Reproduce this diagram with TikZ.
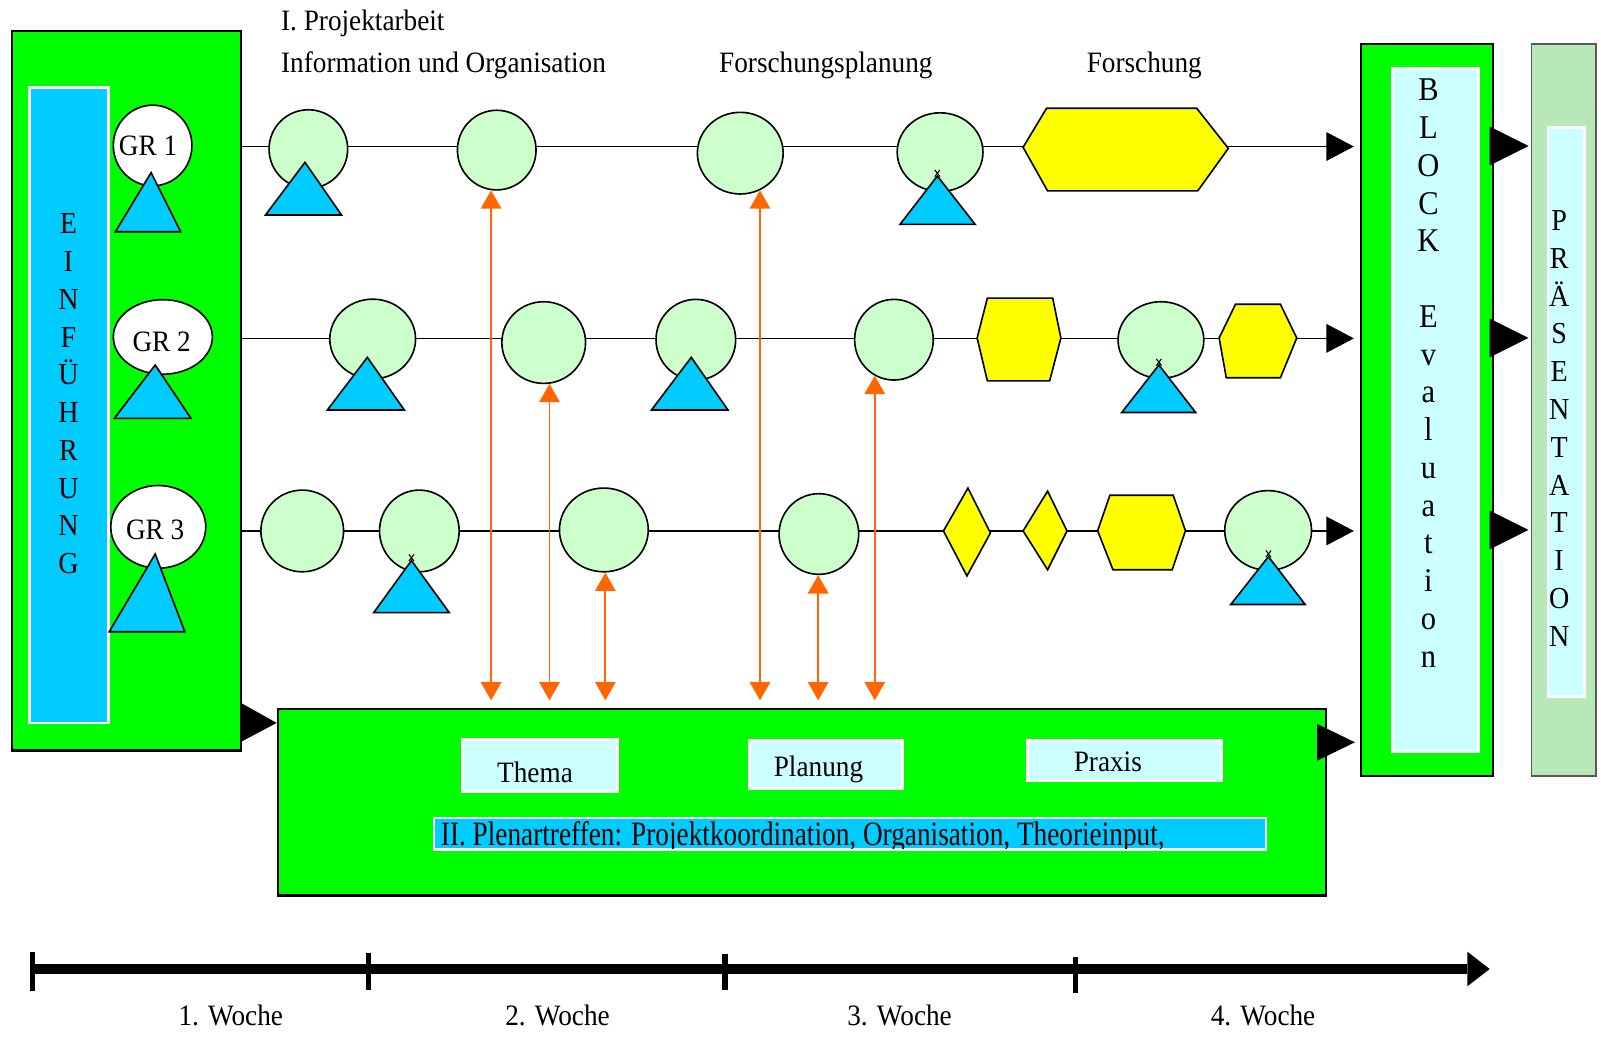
\documentclass[tikz,border=0pt]{standalone}
\usepackage{fontspec}
\setmainfont{Liberation Serif}[FakeStretch=0.92]
\newfontfamily\schmal{Liberation Serif}[FakeStretch=0.8]
\usetikzlibrary{shapes.geometric,arrows.meta,positioning}

\definecolor{hellgruen}{RGB}{204,255,204}
\definecolor{gruen}{RGB}{0,255,0}
\definecolor{tuerkis}{RGB}{0,204,255}
\definecolor{hellcyan}{RGB}{204,255,255}
\definecolor{gelb}{RGB}{255,255,0}
\definecolor{signalorange}{RGB}{255,102,0}
\definecolor{praesgruen}{RGB}{184,232,184}

\tikzset{
	groesse/.style 2 args={minimum width=#1*0.02cm, minimum height=#2*0.02cm},
	kasten/.style={draw, line width=1.2pt, fill=gruen, inner sep=0pt},
	feld/.style={draw=white, line width=1.5pt, fill=hellcyan, inner sep=0pt},
	balken/.style={draw=white, line width=1.5pt, fill=tuerkis, inner sep=0pt},
	kreis/.style={ellipse, draw, line width=0.9pt, fill=hellgruen, inner sep=0pt},
	gruppe/.style={ellipse, draw, line width=0.9pt, fill=white, inner sep=0pt},
	dreieck/.style={draw, line width=0.9pt, fill=tuerkis, line join=miter},
	wabe/.style={draw, line width=0.9pt, fill=gelb},
	zeile/.style={line width=0.9pt, shorten >=0.12cm, -{Triangle[length=0.54cm, width=0.56cm]}},
	pfeil/.style={color=signalorange, line width=1.1pt, shorten >=0.14cm, {Triangle[length=0.36cm, width=0.4cm]}-{Triangle[length=0.36cm, width=0.4cm]}},
	schrift/.style={font=\fontsize{16.5}{20}\selectfont, inner sep=0pt},
	senkrecht/.style={font=\fontsize{17}{21.05}\selectfont, align=center, inner sep=0pt, anchor=north},
}

\begin{document}
\begin{tikzpicture}[x=0.02cm, y=-0.02cm]
	\useasboundingbox (0,0) rectangle (1568,1017);
	% Einfuehrung
	\node[kasten, groesse={224}{705}] (einf) at (124,382.5) {};
	\node[balken, groesse={77}{622}] (einfbalken) at (67.5,397) {};
	\node[senkrecht] (einftext) at (67,209) {E\\I\\N\\F\\Ü\\H\\R\\U\\N\\G};
	% Block Evaluation und Praesentation
	\node[kasten, groesse={129}{717}] (block) at (1397.5,401.5) {};
	\node[feld, groesse={84}{669}] (blockfeld) at (1406,401.5) {};
	\node[senkrecht, font=\fontsize{18.5}{21.05}\selectfont] (blocktext) at (1399,77) {B\\L\\O\\C\\K\\~\\E\\v\\a\\l\\u\\a\\t\\i\\o\\n};
	\node[draw=gray!70!black, line width=0.8pt, fill=praesgruen, groesse={63}{717}] (praes) at (1531.5,401.5) {};
	\node[feld, groesse={36}{557}] (praesfeld) at (1534,403.5) {};
	\node[senkrecht] (praestext) at (1527,206) {P\\R\\Ä\\S\\E\\N\\T\\A\\T\\I\\O\\N};
	% Plenartreffen
	\node[kasten, groesse={1027}{183}] (plen) at (785.5,785.5) {};
	\node[feld, groesse={152}{51}] (thema) at (529,749.5) {};
	\node[feld, groesse={150}{47}] (planung) at (809,748.5) {};
	\node[feld, groesse={190}{40}] (praxis) at (1101,745) {};
	\node[balken, groesse={815}{31}] (plenarbalken) at (832.5,816.5) {};
	\node[schrift, anchor=base] (thematext) at (524,766) {Thema};
	\node[schrift, anchor=base] (planungtext) at (801.6,760.7) {Planung};
	\node[schrift, anchor=base] (praxistext) at (1085,755.8) {Praxis};
	\begin{scope}
		\clip (426,802) rectangle (1239,831);
		\node[anchor=base west, inner sep=0pt, font=\schmal\fontsize{19}{22}\selectfont] (plenartext) at (431.5,828.5) {II. Plenartreffen: Projektkoordination, Organisation, Theorieinput,};
	\end{scope}

	% Zeilen der Gruppen
	\draw[zeile] (einf.east |- 0,143.5) -- (block.west |- 0,143.5);
	\draw[zeile] (einf.east |- 0,331.4) -- (block.west |- 0,331.4);
	\draw[zeile] (einf.east |- 0,520) -- (block.west |- 0,520);

	\node[gruppe, groesse={77}{79}] (gr1) at (149.5,142.5) {};
	\node[gruppe, groesse={97}{73}] (gr2) at (159.5,330) {};
	\node[gruppe, groesse={93}{81}] (gr3) at (155,516) {};
	\node[schrift, anchor=base] (gr1text) at (145,152.5) {GR 1};
	\node[schrift, anchor=base] (gr2text) at (158.3,344) {GR 2};
	\node[schrift, anchor=base] (gr3text) at (152,528) {GR 3};

	\node[kreis, groesse={77}{77}] (c11) at (302,146) {};
	\node[kreis, groesse={77}{78}] (c12) at (486.5,147) {};
	\node[kreis, groesse={84}{80}] (c13) at (725,150) {};
	\node[kreis, groesse={84}{77}] (c14) at (920.7,149) {};
	\node[kreis, groesse={84}{78}] (c21) at (365,332) {};
	\node[kreis, groesse={82}{80}] (c22) at (532.5,335.5) {};
	\node[kreis, groesse={78}{79}] (c23) at (681.5,332.7) {};
	\node[kreis, groesse={77}{79}] (c24) at (875.5,332.7) {};
	\node[kreis, groesse={84}{75}] (c25) at (1137,333) {};
	\node[kreis, groesse={81}{80}] (c31) at (296,520) {};
	\node[kreis, groesse={78}{80}] (c32) at (410.7,520) {};
	\node[kreis, groesse={87}{82}] (c33) at (591.4,519) {};
	\node[kreis, groesse={78}{79}] (c34) at (802,523) {};
	\node[kreis, groesse={85}{78}] (c35) at (1242,519.5) {};

	\draw[wabe] (1002,144.3) -- (1025,106) -- (1172,106) -- (1203,145.3) -- (1173,187) -- (1026,187) -- cycle;
	\draw[wabe] (957,331) -- (967,292) -- (1031,292) -- (1039,331) -- (1028,373) -- (967,373) -- cycle;
	\draw[wabe] (1194,331) -- (1210,298) -- (1254,298) -- (1270,331) -- (1254,370) -- (1201,370) -- cycle;
	\draw[wabe] (1075,519.8) -- (1087,485) -- (1149,485) -- (1161,519.8) -- (1148,558) -- (1090,558) -- cycle;
	\draw[wabe] (924,520) -- (948,478) -- (970,522) -- (947,564) -- cycle;
	\draw[wabe] (1002,520) -- (1026,481) -- (1045,520) -- (1026,558) -- cycle;

	% Dreiecke
	\draw[dreieck] (148,169) -- (113,227) -- (177,227) -- cycle;
	\draw[dreieck] (152,357.5) -- (112,409.7) -- (187,409.7) -- cycle;
	\draw[dreieck] (152,542.6) -- (107,618.7) -- (181,618.7) -- cycle;
	\draw[dreieck] (298.7,159) -- (260,210.6) -- (334.5,210.6) -- cycle;
	\draw[dreieck] (918,172.4) -- (881.5,219.7) -- (955,219.7) -- cycle;
	\draw[dreieck] (359.8,350) -- (320.6,401.6) -- (396,401.6) -- cycle;
	\draw[dreieck] (677,350) -- (638,401.6) -- (713,401.6) -- cycle;
	\draw[dreieck] (1135,357.5) -- (1098.6,404) -- (1171,404) -- cycle;
	\draw[dreieck] (403,549) -- (366,600) -- (440,600) -- cycle;
	\draw[dreieck] (1242.3,545.2) -- (1205.4,592) -- (1278.2,592) -- cycle;
	\draw[line width=0.6pt] (915.5,166.5) -- (920.5,173) (920.5,166.5) -- (915.5,173);
	\draw[line width=0.6pt] (1132.5,351.5) -- (1137.5,358) (1137.5,351.5) -- (1132.5,358);
	\draw[line width=0.6pt] (400.5,543) -- (405.5,549.5) (405.5,543) -- (400.5,549.5);
	\draw[line width=0.6pt] (1239.8,539.2) -- (1244.8,545.7) (1244.8,539.2) -- (1239.8,545.7);

	% Verbindungen zum Plenum
	\draw[pfeil] (c12.-98) -- (c12.-98 |- plen.north);
	\draw[pfeil] (c22.-82) -- (c22.-82 |- plen.north);
	\draw[pfeil] (c33.-88) -- (c33.-88 |- plen.north);
	\draw[pfeil] (c13.-62) -- (c13.-62 |- plen.north);
	\draw[pfeil] (c34.-91) -- (c34.-91 |- plen.north);
	\draw[pfeil] (c24.-118) -- (c24.-118 |- plen.north);

	% Ueberschriften
	\node[schrift, anchor=base west] (projekt) at (275,30) {I. Projektarbeit};
	\node[schrift, anchor=base west] (info) at (275,71) {Information und Organisation};
	\node[schrift, anchor=base west] (fplanung) at (704,71) {Forschungsplanung};
	\node[schrift, anchor=base west] (forschung) at (1064,71) {Forschung};

	% schwarze Pfeile
	\fill (einf.east |- 0,689) -- (plen.west |- 0,708) -- (einf.east |- 0,726) -- cycle;
	\fill (1290,709) -- (1327,727) -- (1290,745) -- cycle;
	\foreach \y in {143,331,519}
		\fill (1459,\y-19) -- (1497,\y) -- (1459,\y+19) -- cycle;

	% Zeitachse
	\coordinate (achsanfang) at (32,949);
	\coordinate (achsende) at (1459,949);
	\draw[line width=0.18cm, -{Triangle[length=0.44cm, width=0.68cm, line width=0pt]}] (achsanfang) -- (achsende);
	\foreach \x/\o/\u in {32/932/971, 361/933/970, 710/934/970, 1053/937/973}
		\draw[line width=0.1cm] (\x,\o) -- (\x,\u);
	\foreach \x/\n in {226/1, 546/2, 881/3, 1237/4}
		\node[schrift, anchor=base] (woche\n) at (\x,1004) {\n. Woche};
\end{tikzpicture}
\end{document}
